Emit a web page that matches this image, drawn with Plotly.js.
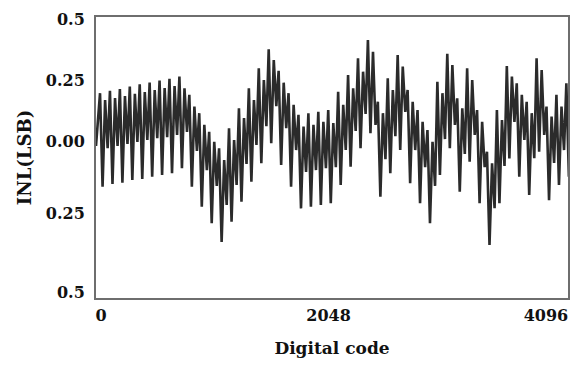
<!DOCTYPE html>
<html>
<head>
<meta charset="utf-8">
<script src="https://cdn.plot.ly/plotly-3.0.1.min.js"></script>
<style>
  html, body { margin: 0; padding: 0; background: #ffffff; }
  #chart { width: 571px; height: 365px; }
</style>
</head>
<body>
<div id="chart"></div>
<script>
// INL (LSB) versus digital code.
// Each period of the curve: high peak, deep trough, second peak, shallow trough.
const startValue = -0.02;
const peakHigh = [0.196, 0.206, 0.213, 0.223, 0.232, 0.240, 0.248, 0.255, 0.264, 0.189,
                  0.114, 0.038, -0.030, 0.052, 0.134, 0.216, 0.298, 0.376, 0.288, 0.196,
                  0.107, 0.114, 0.120, 0.127, 0.202, 0.270, 0.339, 0.414, 0.161, 0.257,
                  0.352, 0.209, 0.127, 0.045, 0.243, 0.357, 0.175, 0.298, 0.127, -0.044,
                  0.127, 0.307, 0.236, 0.161, 0.339, 0.141, 0.189, 0.236];
const troughDeep = [-0.187, -0.176, -0.171, -0.160, -0.155, -0.146, -0.139, -0.132, -0.111, -0.187,
                    -0.269, -0.337, -0.413, -0.331, -0.249, -0.167, -0.091, -0.009, -0.098, -0.187,
                    -0.276, -0.269, -0.262, -0.255, -0.180, -0.105, -0.029, 0.032, -0.228, -0.132,
                    -0.037, -0.173, -0.255, -0.337, -0.139, -0.029, -0.208, -0.085, -0.255, -0.426,
                    -0.255, -0.071, -0.146, -0.221, -0.044, -0.242, -0.180, -0.146];
const peakSecond = [0.168, 0.176, 0.184, 0.193, 0.201, 0.209, 0.217, 0.225, 0.216, 0.141,
                    0.066, -0.003, -0.078, 0.004, 0.094, 0.168, 0.250, 0.332, 0.239, 0.148,
                    0.059, 0.066, 0.079, 0.074, 0.148, 0.216, 0.284, 0.366, 0.114, 0.209,
                    0.305, 0.161, 0.079, -0.003, 0.196, 0.311, 0.134, 0.250, 0.079, -0.091,
                    0.086, 0.264, 0.189, 0.114, 0.291, 0.100, 0.141, 0.189];
const troughShallow = [-0.029, -0.020, -0.012, -0.004, 0.004, 0.012, 0.016, 0.025, 0.037, -0.041,
                       -0.119, -0.184, -0.262, -0.180, -0.094, -0.016, 0.061, 0.143, 0.053, -0.037,
                       -0.127, -0.119, -0.111, -0.107, -0.037, 0.041, 0.111, 0.066, -0.074, 0.020,
                       0.119, -0.037, -0.107, -0.184, 0.008, 0.066, -0.053, 0.025, -0.107, -0.275,
                       -0.102, 0.078, 0.004, -0.070, 0.025, -0.090, -0.037, 0.004];
const firstPeakCode = 35;
const periodCodes = 86.1;
const phaseOffsets = [0, 22, 44, 66];

const yTickVals = [0.5, 0.25, 0, -0.297, -0.62];
const yTickText = ['0.5', '0.25', '0.00', '0.25', '0.5'];
const xTickVals = [43, 2018, 3905];
const xTickText = ['0', '2048', '4096'];

const xs = [0];
const ys = [startValue];
for (let k = 0; k < peakHigh.length; k++) {
  const base = firstPeakCode + k * periodCodes;
  const vals = [peakHigh[k], troughDeep[k], peakSecond[k], troughShallow[k]];
  for (let j = 0; j < 4; j++) {
    xs.push(base + phaseOffsets[j]);
    ys.push(vals[j]);
  }
}

const trace = {
  x: xs, y: ys, type: 'scatter', mode: 'lines',
  line: { color: '#2b2b2b', width: 2.6 },
  hoverinfo: 'skip'
};

const tickFont = { family: 'DejaVu Serif', size: 16, color: '#111111', weight: 'bold' };
const layout = {
  width: 571, height: 365,
  margin: { l: 96, r: 3, t: 17, b: 67 },
  paper_bgcolor: '#ffffff', plot_bgcolor: '#ffffff',
  showlegend: false,
  xaxis: {
    range: [0, 4096], showgrid: false, zeroline: false,
    showline: true, mirror: true, linecolor: '#6e6e6e', linewidth: 2,
    ticks: '', tickvals: xTickVals, ticktext: xTickText,
    tickfont: tickFont, ticklabelstandoff: 2,
    title: { text: 'Digital code', font: { family: 'DejaVu Serif', size: 17, color: '#111111', weight: 'bold' }, standoff: 18 }
  },
  yaxis: {
    range: [-0.643, 0.508], showgrid: false, zeroline: false,
    showline: true, mirror: true, linecolor: '#6e6e6e', linewidth: 2,
    ticks: '', tickvals: yTickVals, ticktext: yTickText,
    tickfont: tickFont, ticklabelstandoff: 6,
    title: { text: 'INL(LSB)', font: { family: 'DejaVu Serif', size: 18, color: '#111111', weight: 'bold' }, standoff: 10 }
  }
};

Plotly.newPlot('chart', [trace], layout, { displayModeBar: false, staticPlot: true });
</script>
</body>
</html>
